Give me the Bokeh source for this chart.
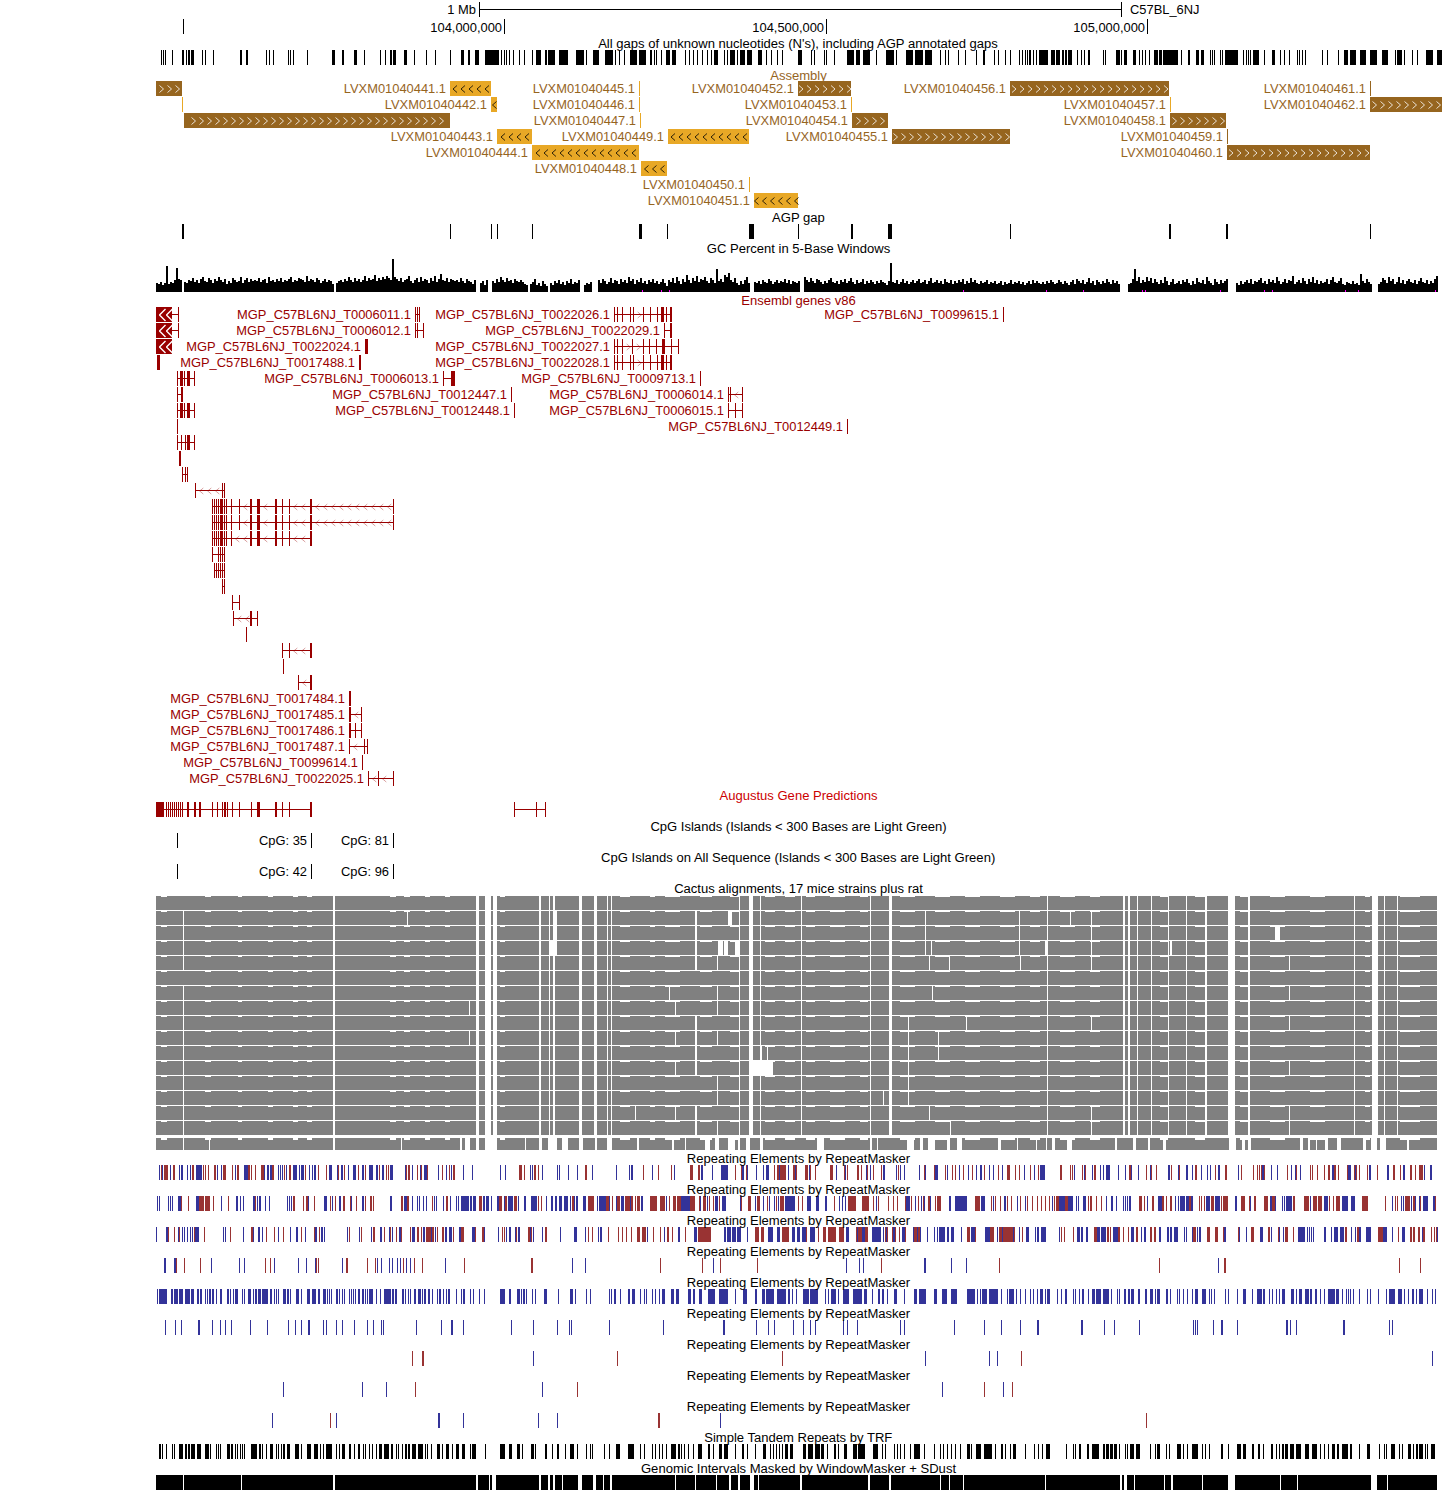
from bokeh.plotting import figure
from bokeh.models import Range1d, ColumnDataSource
from bokeh.core.properties import value
from bokeh.embed import file_html
from bokeh.resources import INLINE

# All positions below are window bins (1 bin is about 1.556 kb).
# An int is one bin wide; a tuple is (start, end).

GENOME_TICKS = [504, 826, 1147]
GENOME_TICK_LABELS = ["104,000,000", "104,500,000", "105,000,000"]
FIRST_TICK = 183
SCALE_BAR = (479, 1121)

ALL_GAPS = [161,163,165,172,(182,184),(186,187),(188,190),(191,194),202,205,213,(240,242),(246,248),266,269,273,288,290,293,307,
(332,335),(342,344),(354,357),364,380,385,(390,392),(393,396),(404,407),414,426,435,450,(461,464),(468,470),(475,479),(485,499),501,504,506,509,513,519,524,532,
(536,541),(545,547),(548,555),(559,568),(576,584),586,(593,599),(605,613),615,619,624,(630,637),(639,646),(650,652),654,656,661,(666,670),(672,676),685,689,693,697,702,707,711,(714,718),724,727,(730,735),737,(740,745),(747,752),
(758,762),766,771,777,782,(798,802),811,814,824,826,834,(847,854),(856,860),(863,870),876,(886,894),896,(906,913),(915,923),(925,932),940,945,948,958,965,976,(983,985),994,998,1005,1010,1019,1025,1029,(1036,1037),(1039,1047),
1022,1027,1030,1033,(1039,1042),(1044,1048),(1051,1055),(1056,1060),(1062,1064),(1065,1067),(1068,1072),1077,1081,1084,(1088,1090),1103,1105,(1116,1120),1121,(1124,1127),(1133,1136),1139,1142,1145,1149,(1154,1158),(1159,1162),(1163,1167),(1167,1178),1181,(1188,1190),(1196,1199),(1201,1204),1210,1212,1214,1220,1222,(1225,1238),1243,1246,1248,1250,(1253,1259),1264,(1272,1275),1280,1284,1289,1297,1299,1302,1305,1322,1327,1338,(1344,1348),(1350,1356),(1360,1366),(1370,1377),(1382,1388),1395,(1397,1402),1404,1412,1417,(1426,1433),(1437,1442)]

ASM_NAMES = ["", "LVXM01040441.1", "LVXM01040442.1", "LVXM01040445.1", "LVXM01040446.1", "LVXM01040447.1", "", "", "LVXM01040443.1", "LVXM01040444.1", "LVXM01040448.1", "LVXM01040449.1", "LVXM01040450.1", "LVXM01040451.1", "LVXM01040452.1", "LVXM01040453.1", "LVXM01040454.1", "LVXM01040455.1", "LVXM01040456.1", "LVXM01040457.1", "LVXM01040458.1", "LVXM01040459.1", "LVXM01040460.1", "LVXM01040461.1", "LVXM01040462.1"]
ASM_ROW =    [0,0,1,0,1,2,1,2,3,4,5,3,6,7,0,1,2,3,0,1,2,3,4,0,1]
ASM_START =  [156,450,491,639,639,640,182,184,497,532,641,668,749,754,798,851,852,892,1010,1170,1170,1227,1227,1370,1370]
ASM_END =    [182,491,497,640,640,641,183,450,532,639,667,749,750,798,851,852,888,1010,1169,1171,1226,1228,1370,1371,1442]
ASM_STRAND = ["+","-","-","-","-","-","-","+","-","-","-","-","-","-","+","-","+","+","+","-","+","+","+","+","+"]

AGP_GAPS = [(182,184),450,491,497,532,(639,642),667,(749,754),798,(851,853),(888,892),1010,(1169,1171),(1226,1228),1370]

GC_BIN = 2
GC_START = 156
GC_BASE = 3
GC_HEIGHT = [
6,5,7,4,6,23,5,7,6,9,21,10,9,0,7,6,9,8,11,7,9,6,10,12,8,7,11,9,6,10,8,12,9,7,10,5,8,6,11,9,7,8,12,6,9,11,7,10,8,9,
8,11,7,9,10,6,12,8,9,7,10,8,11,7,9,8,10,12,7,9,8,11,10,9,7,13,8,10,9,7,11,9,6,8,10,7,9,8,5,0,6,8,9,7,10,8,12,9,7,11,
8,10,7,9,13,8,11,9,10,14,8,11,9,12,10,13,11,9,30,12,10,8,11,7,9,10,13,8,6,9,11,7,12,8,10,9,6,11,8,13,7,10,15,9,8,11,7,10,9,8,
9,7,11,8,6,10,8,7,5,9,0,0,6,8,4,9,0,0,8,6,10,7,12,9,7,11,8,9,6,10,8,7,9,7,5,4,0,5,7,10,4,6,3,8,5,3,0,6,4,8,
6,9,5,7,4,8,6,10,5,7,6,9,0,0,4,6,5,7,0,0,0,9,6,10,8,5,7,11,6,9,8,5,10,7,9,6,12,8,10,5,9,7,11,6,8,5,9,7,10,6,
8,5,7,10,6,3,9,7,11,6,12,8,5,10,7,14,9,6,11,8,13,7,10,9,12,8,6,11,9,6,20,8,10,7,14,12,16,9,7,11,6,4,8,5,9,12,6,0,0,7,
6,8,5,9,7,6,10,8,5,7,9,6,8,7,10,6,9,5,8,7,6,8,0,0,12,9,7,11,8,6,10,9,7,5,8,6,9,11,7,6,8,5,9,7,10,6,8,11,7,5,
9,6,7,10,5,8,6,9,7,5,8,6,9,7,6,4,8,26,7,6,9,5,7,10,6,8,5,7,9,6,8,10,6,7,9,5,8,11,6,7,9,6,8,5,10,7,6,9,5,8,
6,9,7,10,5,8,6,11,7,9,6,5,8,6,7,9,5,7,6,8,5,6,8,4,7,5,6,9,5,7,6,8,5,7,4,6,8,5,9,6,8,6,5,7,5,8,6,9,7,5,
6,9,7,5,8,6,4,7,9,5,10,8,6,9,5,7,11,6,8,4,9,7,5,8,6,10,7,5,9,6,8,5,0,0,0,0,5,6,10,20,8,12,6,9,7,12,8,11,6,10,
7,5,9,6,12,8,4,7,10,5,6,8,5,9,7,10,6,4,8,5,11,7,6,9,5,12,8,6,4,10,7,5,9,6,8,10,0,0,0,0,6,4,8,5,7,9,6,10,5,8,
7,9,11,6,8,5,10,7,9,6,12,8,5,7,10,6,9,8,13,5,7,9,6,11,8,5,10,7,12,6,9,5,8,6,7,10,5,9,12,7,6,8,11,5,4,7,6,5,8,5,
6,4,15,8,6,10,7,5,0,0,0,5,7,11,9,6,12,8,10,5,7,12,6,9,5,8,10,7,6,9,5,8,11,7,6,9,5,8,6,10,13]
GC_ZERO = [642,661,669,963,1046,1083,1142,1145,1220,1264,1272,1345,1358,1435]

P = "MGP_C57BL6NJ_"
GENES = [
(0,"", "-",[(156,172),178]),(1,"", "-",[(156,172),178]),(2,"", "-",[(156,172)]),(3,"", "-",[(157,160)]),
(4,"", "-",[177,180,(181,183),184,(187,190),194]),(5,"", "-",[177,(181,183)]),(6,"", "-",[177,180,(181,183),184,(187,190),194]),
(7,"", "-",[177]),(8,"", "-",[177,181,185,(187,190),194]),(9,"", "-",[(179,181)]),(10,"", "-",[182,185,187]),
(11,"", "-",[(195,196),222,224]),
(12,"", "-",[212,214,216,218,(220,222),222,224,226,231,239,(250,252),(257,260),(275,277),282,289,(310,312),393]),
(13,"", "-",[212,214,216,218,(220,222),222,224,226,231,(239,240),(250,252),(257,260),(275,277),282,289,(310,312),393]),
(14,"", "-",[212,214,216,218,(220,222),222,224,226,231,(250,252),(257,260),(275,277),282,289,(310,312)]),
(15,"", "-",[212,218,220,222,224]),(16,"", "-",[214,216,218,220,222,224]),(17,"", "-",[222,224]),
(18,"", "-",[232,239]),(19,"", "-",[233,(250,252),257]),(20,"", "-",[246]),(21,"", "-",[282,289,(310,312)]),(22,"", "-",[283]),(23,"", "-",[298,(310,312)]),
(24,"T0017484.1","-",[(349,351)]),(25,"T0017485.1","-",[(349,351),361]),(26,"T0017486.1","-",[(349,351),355,361]),
(27,"T0017487.1","-",[349,364,367]),(28,"T0099614.1","-",[362]),(29,"T0022025.1","-",[368,378,393]),
(0,"T0006011.1","-",[415,417,419]),(1,"T0006012.1","-",[415,417,423]),(2,"T0022024.1","-",[(365,368)]),(3,"T0017488.1","-",[(359,361)]),
(4,"T0006013.1","-",[443,(451,455)]),(5,"T0012447.1","-",[511]),(6,"T0012448.1","-",[514]),
(0,"T0022026.1","+",[(614,615),617,622,630,633,643,650,657,(661,664),666,(670,672)]),(1,"T0022029.1","+",[664,(670,672)]),
(2,"T0022027.1","+",[(614,615),617,622,632,643,649,656,(662,665),671,678]),(3,"T0022028.1","+",[(614,615),617,622,630,633,643,650,657,(661,664),666,(670,672)]),
(4,"T0009713.1","-",[700]),(5,"T0006014.1","-",[728,(730,731),742]),(6,"T0006015.1","-",[728,735,742]),(7,"T0012449.1","-",[847]),(0,"T0099615.1","-",[1003]),
]
PACKED_CHEVRONS = [(0,162),(0,169),(1,162),(1,169),(2,162),(2,169)]

AUGUSTUS = [[(156,164),166,168,170,172,174,176,178,180,182,(187,189),(194,196),(199,201),212,217,222,(224,226),227,232,239,251,(257,260),(275,277),282,289,(310,312)],[514,536,545]]

CPG_TICKS = [177, 311, 393]
CPG_LABELS_A = ["", "CpG: 35", "CpG: 81"]
CPG_LABELS_B = ["", "CpG: 42", "CpG: 96"]

CACTUS = [(156,183),(184,333),(335,476),(479,485),(491,493),(497,539),(541,549),(550,553),(555,579),(582,594),(597,607),(608,611),(612,739),(740,749),(753,760),(761,801),(802,870),(871,889),(892,1047),(1048,1123),(1125,1128),(1130,1137),(1138,1151),(1152,1168),(1169,1186),(1187,1205),(1207,1228),(1235,1248),(1250,1354),(1355,1372),(1378,1384),(1385,1397),(1398,1437)]
CACTUS_NOTCH = [(161,167),(205,211),(238,242),(268,273),(293,298),(307,312),(390,396),(404,410),(425,430),(445,450),(500,505),(620,630),(650,655),(665,680),(700,712),(730,739),(765,775),(785,795),(806,815),(830,845),(860,868),(900,915),(935,950),(965,980),(1000,1015),(1030,1040),(1060,1075),(1090,1100),(1160,1168),(1195,1205),(1240,1248),(1270,1285),(1310,1325),(1365,1370),(1400,1420)]
CACTUS_FILL = {0:[(183,184)], 5:[(183,184)]}
CACTUS_WHITE = {
1:[(407,408),(553,557),(695,697),(728,732),925,1019,1070,1091],
2:[(553,557),(695,697),925,1019,1091,(1275,1280)],
3:[(549,557),(695,697),(718,723),(724,728),(735,739),925,931,1019,(1045,1048),1091,(1170,1172)],
4:[(695,697),717,929,949,1020,1091,1289],
5:[],
6:[669,717,932,1289],
7:[(469,470),675,717],
8:[(695,697),908,966,1091,1289],
9:[(469,470),675,(695,697),717,908,938,1168],
10:[(695,697),761,(767,768),908,938],
11:[675,(695,697),(750,773),908,1289],
12:[717,908],
13:[717,(883,884),908],
14:[635,675,(695,697),929,1091,1289],
15:[(695,697),717,950,1091,1289],
}
CACTUS_LAST = [(156,183),(184,209),(210,333),(335,401),(402,460),(462,465),(470,476),(479,485),(497,525),(526,539),(542,548),(557,562),(568,579),(583,595),(597,607),(612,637),(639,672),(674,685),(686,705),(710,715),(719,728),(735,738),(740,746),(750,760),(763,817),(824,870),(872,877),(878,907),(914,920),(923,928),(935,947),(950,957),(962,998),(1001,1017),(1018,1036),(1037,1046),(1047,1052),(1055,1067),(1072,1115),(1117,1133),(1136,1148),(1150,1163),(1166,1229),(1236,1242),(1245,1248),(1251,1300),(1303,1308),(1310,1316),(1317,1325),(1328,1337),(1341,1363),(1366,1371),(1377,1380),(1386,1407),(1409,1437)]

REP_BLUE = [
[159,162,170,179,(181,183),187,190,(196,202),217,221,(235,236),(244,248),264,(267,269),(270,272),278,280,282,286,(293,297),299,(301,304),309,312,(314,316),(329,332),337,(341,343),348,(353,356),(362,364),(369,373),(376,378),(382,384),(390,393),405,412,420,(424,427),438,(446,447),451,463,472,500,505,530,532,542,557,559,568,577,592,
616,629,(631,633),652,674,(701,703),712,(721,728),(742,744),747,756,763,(766,769),779,788,795,809,836,845,866,870,(883,885),896,900,904,919,925,(935,938),947,959,968,976,(980,982),989,993,1002,1024,1034,(1040,1045),
(1074,1075),1084,1092,1100,1103,(1106,1110),1118,1125,1131,1138,1150,(1168,1170),1178,(1186,1188),1192,1201,1207,1210,(1218,1220),1238,(1262,1264),1271,1277,1291,1295,1300,(1332,1334),(1348,1351),1355,(1369,1371),(1387,1389),(1403,1405),1424,(1430,1432)],
[157,159,168,170,172,(178,181),(196,199),221,(236,238),240,243,(253,255),257,(259,261),265,269,287,289,291,308,(324,327),332,(339,341),351,(362,364),(390,392),(404,407),412,417,419,423,426,434,436,443,450,456,458,(461,469),(470,472),(473,476),(483,485),(486,489),491,(497,499),504,(508,513),518,(524,526),(531,537),546,(551,553),(555,557),(559,562),(564,568),570,574,(576,578),(583,586),597,599,
(600,606),(609,610),616,(621,624),630,(641,643),666,(681,690),700,707,(715,718),(722,726),740,755,763,769,774,778,(785,795),(807,811),(816,819),(825,827),839,842,845,876,(906,910),915,921,924,930,(949,951),(955,967),(981,985),993,(1004,1006),1017,1025,
1052,(1059,1065),(1068,1073),1076,1078,(1083,1086),1106,(1111,1113),1116,1123,1125,1127,(1129,1131),1147,(1158,1162),1175,1178,(1180,1185),(1186,1189),(1191,1193),(1206,1210),(1215,1220),(1235,1237),1250,(1270,1272),(1275,1276),1282,1284,(1286,1292),1310,(1324,1328),(1342,1348),(1351,1355),1392,1401,1403,1411,1415,1419,(1423,1428),(1433,1435)],
[156,(166,168),178,182,184,187,190,192,(195,199),223,225,243,253,(258,260),262,278,290,(296,298),305,(315,317),(321,323),324,347,359,371,(380,382),389,392,(399,401),(412,415),(423,425),431,435,(445,447),(449,452),(459,461),(472,475),484,498,506,(509,511),515,(518,520),530,533,542,560,(574,577),585,598,
(600,602),647,664,(678,680),(694,697),(724,726),(727,731),(732,736),(737,741),747,(768,773),(777,780),(792,795),(797,800),(802,806),(810,815),(846,849),857,(862,865),(872,881),883,886,(893,895),(902,905),913,917,920,927,934,937,(939,945),(947,949),(951,954),961,(971,975),(985,990),997,1002,1013,1019,(1026,1029),1035,(1037,1039),(1041,1046),
1059,(1077,1080),(1081,1083),(1086,1088),(1097,1100),(1101,1106),(1113,1118),(1131,1134),1141,(1144,1146),(1159,1161),(1167,1169),(1170,1172),(1174,1178),1184,1186,1192,1197,(1199,1201),(1224,1226),1239,1246,(1260,1263),1271,1279,1283,(1298,1305),1307,1309,1311,1313,(1324,1326),1331,(1334,1338),(1340,1344),1351,1355,(1359,1361),(1366,1371),(1383,1387),1392,(1402,1405),1422,1437],
[(164,166),(174,176),211,239,244,274,298,306,315,342,381,377,389,392,397,400,406,410,445,572,585,713,846,859,863,(924,926),951,966,1218],
[157,(159,167),(171,173),(174,178),(179,183),(185,190),(191,194),(197,199),(200,202),205,207,(209,211),(212,214),216,(220,222),(227,229),230,233,(235,238),242,244,(248,251),253,(255,257),(258,261),(262,268),(270,272),274,276,278,(283,286),(287,289),290,(296,299),301,(307,310),(312,316),(318,320),(323,326),327,329,331,(336,338),339,342,344,349,351,353,355,(358,360),(362,364),365,367,(369,373),376,380,(384,391),(392,394),(395,397),(402,404),405,408,410,(414,416),(418,421),422,(424,426),(428,430),432,437,(439,441),443,446,(448,450),456,461,(463,465),470,473,479,484,(500,505),(509,511),(517,520),521,(523,525),526,532,535,(544,547),558,(570,573),575,586,590,
609,611,(614,616),620,(628,630),(632,635),640,644,646,652,655,659,(662,665),(671,674),(676,679),(688,691),(693,695),(699,702),(708,715),(719,728),735,(743,747),(755,757),(762,765),(766,774),(777,786),(788,790),792,796,(803,809),(810,818),825,828,(831,836),838,(843,849),(853,862),(864,867),872,(878,880),(882,884),887,(894,897),904,(914,917),(919,926),(934,937),(942,947),(951,957),(967,975),977,980,(982,987),(989,998),1001,1007,(1009,1014),1016,1020,1025,1030,1033,1037,(1040,1043),1045,(1047,1050),
1057,1061,(1065,1067),1073,1075,1079,(1082,1084),1088,(1092,1095),(1096,1101),(1103,1109),1111,1117,1119,(1124,1126),(1128,1130),(1131,1134),(1138,1140),(1145,1147),(1150,1153),1155,(1157,1160),(1166,1168),1170,1177,1179,1183,1187,1192,(1195,1198),(1202,1206),1209,1211,1214,1225,1228,1237,(1243,1246),1252,(1257,1262),(1263,1265),1269,1272,1276,1279,(1282,1285),(1291,1294),1296,(1299,1302),(1305,1309),(1310,1312),(1315,1317),1320,1324,(1328,1335),(1336,1339),1342,1346,1348,1350,1353,1359,1367,1370,1378,1386,(1389,1395),(1398,1402),1404,1408,(1412,1414),1416,(1419,1423),1427,1432,1435],
[165,175,181,(198,200),212,220,225,231,250,267,288,295,301,(308,310),323,326,336,342,354,367,373,381,383,416,441,(451,453),463,511,533,557,569,571,609,663,(723,725),756,768,774,793,803,810,815,843,847,857,900,904,954,984,1001,1020,(1037,1039),(1081,1083),1104,1114,1139,1193,1195,1197,1213,(1221,1223),1237,(1286,1288),1290,1296,(1343,1345),1389,1392],
[533,925,989,997,1432],
[283,362,386,542,942,1003],
[272,336,(438,440),463,538,557,720],
]
REP_RED = [
[161,(164,168),(173,175),(192,194),(198,202),203,205,208,(214,216),(223,226),232,(237,239),(248,250),251,255,(261,264),(272,274),284,(289,291),305,318,326,(337,339),344,358,365,379,386,388,(405,407),(408,410),417,421,(427,428),442,449,(453,455),(519,522),524,(534,536),538,(585,587),
643,658,671,(690,693),(698,700),723,735,741,746,774,(777,786),(793,797),(805,808),810,815,(830,833),844,847,(857,859),861,867,873,881,898,924,(934,936),945,952,955,963,972,984,998,(1007,1010),1015,1019,1030,1038,
(1060,1062),1070,1072,1082,1085,(1094,1096),1118,(1129,1132),1146,(1150,1152),1156,1171,1179,(1195,1197),1201,1215,(1225,1227),1241,1253,1257,1259,(1261,1265),1287,(1295,1297),1310,1312,1317,1324,(1328,1330),(1334,1336),1338,1347,(1354,1357),1359,1367,1377,(1393,1395),1400,(1410,1412),1415,(1419,1423),1430],
[181,188,(199,204),(205,210),213,228,255,(293,295),303,(306,308),314,330,335,(343,345),(350,352),356,365,(370,372),373,(401,403),(407,409),432,(446,448),(479,482),(499,502),(505,507),(514,517),538,541,(572,575),(588,594),599,
(606,609),612,(617,620),(625,633),635,(637,640),(650,657),(660,665),669,(673,676),(677,681),(690,695),699,(703,706),709,713,719,(740,742),(748,751),(757,760),767,776,(780,784),798,802,817,834,(848,856),(862,869),873,878,888,893,897,(905,907),911,918,923,(928,930),935,(937,941),(975,980),991,995,1000,1007,1011,1020,1027,1032,1037,1041,1045,
1049,1054,(1056,1059),(1065,1073),1088,(1090,1092),1096,1101,(1139,1142),1144,(1152,1154),(1162,1164),1166,(1170,1172),(1189,1193),1199,1201,1204,(1211,1214),1221,(1223,1228),(1241,1245),(1249,1251),(1254,1256),(1264,1268),(1272,1276),(1293,1295),(1304,1309),(1313,1317),(1318,1322),1329,1333,(1336,1340),(1362,1368),1385,1395,1397,(1405,1410),(1413,1415),1420,(1434,1436)],
[168,174,179,194,204,230,(251,253),266,274,283,301,(314,316),319,349,361,(373,375),384,(389,391),396,(400,402),410,(417,419),421,(426,434),437,(442,444),453,(461,464),475,(482,484),502,504,516,519,(528,530),531,(545,547),588,592,598,
608,618,622,626,631,(637,640),(642,646),653,660,664,(667,669),672,685,(695,697),(698,711),(755,759),(761,764),(782,789),797,(802,807),(811,815),818,(823,826),(828,836),(839,844),(856,863),(865,868),(885,888),(892,896),899,(904,906),(914,921),(967,970),(973,976),(988,994),(999,1015),1022,
1061,1064,1073,(1094,1097),(1107,1109),1110,(1118,1120),1123,1128,(1136,1138),(1150,1152),(1154,1156),1167,1186,(1192,1196),(1207,1210),(1215,1218),1223,(1238,1240),(1251,1254),(1268,1270),1278,(1285,1288),1293,1301,1341,(1345,1347),(1357,1361),(1378,1383),(1384,1387),1398,(1410,1412),(1413,1415),(1418,1420),(1423,1425),1431,1434,(1436,1438)],
[(175,177),184,200,265,270,(316,317),318,(346,348),367,375,403,414,422,464,(531,533),660,702,720,757,881,999,1159,(1224,1226),1399,1420],
[],
[],
[412,(422,424),617,782,1021],
[415,577,984,1012],
[330,(658,660),1146],
]
REP_TOPS = [1165, 1196, 1227, 1258, 1289, 1320, 1351, 1382, 1413]

TRF = [(159,161),162,166,172,174,(179,183),(185,187),(188,190),(191,195),(197,201),(205,209),210,216,218,220,(227,230),(231,233),235,237,240,242,244,(251,257),(259,261),262,266,(270,273),276,278,281,(283,285),(287,290),(295,299),301,(307,311),(314,318),320,323,(326,332),336,339,(342,345),(349,351),354,(358,360),363,365,369,372,376,(379,382),(384,389),(391,393),396,398,402,(405,407),(408,410),(412,416),(418,423),425,427,431,(437,440),442,(446,449),452,(456,459),(462,465),470,(472,476),485,(500,505),(509,512),(517,520),522,(531,534),535,(545,547),552,(557,559),565,(570,574),577,586,590,592,
604,609,(616,620),(628,634),640,644,652,655,659,662,666,(671,676),(678,680),681,684,688,693,(698,702),(708,710),713,(719,722),(724,728),735,(742,744),747,755,763,(764,766),770,773,776,779,782,(785,788),(790,793),(803,806),(808,813),(815,820),(821,824),827,(834,836),838,(844,847),(853,857),(858,865),(873,878),882,885,894,897,900,904,910,(914,920),924,934,940,943,947,951,955,960,(967,970),971,976,(977,981),(984,992),995,(1001,1003),1005,1010,(1013,1016),1025,1034,1038,1042,(1046,1050),
1066,1073,1075,(1079,1081),(1087,1089),(1092,1099),(1103,1105),(1106,1109),(1110,1113),(1114,1117),1119,1125,1127,(1130,1134),(1136,1140),1150,1155,(1157,1160),1166,1169,(1177,1181),1183,1187,(1192,1198),1202,1205,1209,(1221,1223),1228,(1237,1241),(1243,1246),(1252,1254),(1258,1260),1263,(1271,1273),1276,1279,(1282,1284),(1285,1288),(1290,1294),(1296,1301),(1305,1309),(1312,1317),1320,1324,1328,(1332,1335),(1337,1339),(1342,1348),(1350,1352),1359,(1367,1370),1379,1384,1386,(1391,1395),1399,1402,(1408,1411),1413,(1416,1418),(1419,1423),1425,(1427,1428),(1431,1435)]

WINDOW_MASKER = [(156,183),(184,241),(242,333),(335,476),(478,489),(490,492),(496,539),(541,548),(550,553),(555,562),(563,578),(582,593),(596,603),(604,610),(612,675),(676,695),(696,716),(717,729),(731,738),(740,750),(754,758),(759,800),(802,868),(870,889),(891,940),(941,949),(950,963),(964,1045),(1046,1120),(1122,1124),(1127,1134),(1135,1164),(1165,1171),(1173,1202),(1203,1228),(1235,1280),(1281,1297),(1298,1371),(1377,1387),(1388,1437)]

TITLES = [
("All gaps of unknown nucleotides (N's), including AGP annotated gaps",43,"#000000"),
("Assembly",75,"#96651f"),("AGP gap",217,"#000000"),("GC Percent in 5-Base Windows",248,"#000000"),
("Ensembl genes v86",300,"#990000"),("Augustus Gene Predictions",795,"#cc0000"),
("CpG Islands (Islands < 300 Bases are Light Green)",826,"#000000"),("CpG Islands on All Sequence (Islands < 300 Bases are Light Green)",857,"#000000"),
("Cactus alignments, 17 mice strains plus rat",888,"#000000"),
("Repeating Elements by RepeatMasker",1158,"#000000"),("Repeating Elements by RepeatMasker",1189,"#000000"),("Repeating Elements by RepeatMasker",1220,"#000000"),
("Repeating Elements by RepeatMasker",1251,"#000000"),("Repeating Elements by RepeatMasker",1282,"#000000"),("Repeating Elements by RepeatMasker",1313,"#000000"),
("Repeating Elements by RepeatMasker",1344,"#000000"),("Repeating Elements by RepeatMasker",1375,"#000000"),("Repeating Elements by RepeatMasker",1406,"#000000"),
("Simple Tandem Repeats by TRF",1437,"#000000"),("Genomic Intervals Masked by WindowMasker + SDust",1468,"#000000"),
]

FONT = value("Liberation Sans")
FS_LABEL = "12.9px"
FS_TITLE = "13.05px"
BLACK, GREY, DARKRED = "#000000", "#808080", "#990000"
BROWN, AMBER, LABEL = "#96651f", "#e8a826", "#96651f"
BLUE, RED = "#333399", "#993333"
TITLE_X = 798.5

# half-bin range offset keeps one-bin marks on whole device pixels
p = figure(width=1443, height=1491, x_range=Range1d(0.5, 1443.5), y_range=Range1d(1491.5, 0.5),
           output_backend="svg", toolbar_location=None, min_border=0,
           x_axis_type=None, y_axis_type=None)
p.outline_line_color = None
p.grid.visible = False
p.background_fill_color = "#ffffff"
p.border_fill_color = "#ffffff"


def span(v):
    return v if isinstance(v, tuple) else (v, v + 1)


boxes = dict(left=[], right=[], top=[], bottom=[], color=[])


def box(v, y0, y1, color):
    a, b = span(v)
    boxes["left"].append(a)
    boxes["right"].append(b)
    boxes["top"].append(y0)
    boxes["bottom"].append(y1)
    boxes["color"].append(color)


def track(items, y0, y1, color):
    for v in items:
        box(v, y0, y1, color)


labels = dict(x=[], y=[], text=[], color=[])


def right_label(x, y, text, color):
    labels["x"].append(x)
    labels["y"].append(y)
    labels["text"].append(text)
    labels["color"].append(color)


chev = {}


def chevron(cx, cy, d, hw, hh, color, width, alpha=1.0):
    key = (color, width, alpha)
    c = chev.setdefault(key, ([], []))
    c[0].append([cx - d * hw, cx + d * hw, cx - d * hw])
    c[1].append([cy - hh, cy, cy + hh])


# ruler
box((SCALE_BAR[0], SCALE_BAR[1] + 1), 9, 10, BLACK)
box(SCALE_BAR[0], 2, 17, BLACK)
box(SCALE_BAR[1], 2, 17, BLACK)
box(FIRST_TICK, 19, 34, BLACK)
for x, t in zip(GENOME_TICKS, GENOME_TICK_LABELS):
    box(x, 19, 34, BLACK)
    right_label(x - 2, 28, t, BLACK)
right_label(SCALE_BAR[0] - 3, 10, "1 Mb", BLACK)

track(ALL_GAPS, 50, 65, BLACK)

# assembly
for name, row, a, b, s in zip(ASM_NAMES, ASM_ROW, ASM_START, ASM_END, ASM_STRAND):
    top = 81 + 16 * row
    col = BROWN if s == "+" else AMBER
    box((a, b), top, top + 15, col)
    w = b - a
    if name:
        right_label(a - 4, top + 7.5, name, LABEL)
    if w > 3:
        n = max(1, round(w / 8))
        if w == 266:
            n = 32
        for k in range(n):
            cx = a + w / 2 + (k - (n - 1) / 2) * 8
            d = 1 if s == "+" else -1
            chevron(cx + 0.5, top + 8, d, 2, 3.5, "#ffffff" if s == "+" else "#000000", 0.8)
track(AGP_GAPS, 224, 239, BLACK)

# GC
for i, h in enumerate(GC_HEIGHT):
    if h:
        box((GC_START + i * GC_BIN, GC_START + (i + 1) * GC_BIN), 292 - h - GC_BASE, 292, BLACK)
track(GC_ZERO, 290, 292, "#ff00ff")

# genes
for row, name, s, exons in GENES:
    top = 307 + 16 * row
    spans = [span(e) for e in exons]
    lo, hi = spans[0][0], spans[-1][1]
    if hi - lo > len(exons):
        box((lo, hi), top + 7, top + 8, DARKRED)
    for a, b in zip(spans[:-1], spans[1:]):
        x = a[1] + 5
        while x < b[0] - 2:
            chevron(x + 0.5, top + 8, 1 if s == "+" else -1, 1.8, 3, DARKRED, 0.7, 0.55)
            x += 8
    for e in spans:
        box(e, top, top + 15, DARKRED)
    if name:
        right_label(lo - 4, top + 7.5, P + name, DARKRED)
for row, x in PACKED_CHEVRONS:
    chevron(x + 0.5, 307 + 16 * row + 8, -1, 3, 6, "#ffffff", 1.4)

# augustus
for exons in AUGUSTUS:
    spans = [span(e) for e in exons]
    box((spans[0][0], spans[-1][1]), 809, 810, DARKRED)
    track(spans, 802, 817, DARKRED)

# CpG
for x, a, b in zip(CPG_TICKS, CPG_LABELS_A, CPG_LABELS_B):
    box(x, 833, 848, BLACK)
    box(x, 864, 879, BLACK)
    if a:
        right_label(x - 4, 840.5, a, BLACK)
        right_label(x - 4, 871.5, b, BLACK)

# cactus
for r in range(16):
    top = 896 + 15 * r
    track(CACTUS, top, top + 14, GREY)
    track(CACTUS_FILL.get(r, []), top, top + 14, GREY)
    track(CACTUS_WHITE.get(r, []), top, top + 14, "#ffffff")
    track(CACTUS_NOTCH, top, top + 1, "#ffffff")
track(CACTUS_LAST, 1138, 1150, GREY)
track(CACTUS_NOTCH, 1138, 1140, "#ffffff")

# repeats
for top, red, blue in zip(REP_TOPS, REP_RED, REP_BLUE):
    track(red, top, top + 15, RED)
    track(blue, top, top + 15, BLUE)

track(TRF, 1444, 1459, BLACK)
track(WINDOW_MASKER, 1475, 1490, BLACK)

p.quad(left="left", right="right", top="top", bottom="bottom", color="color",
       line_color=None, source=ColumnDataSource(boxes))

for (color, width, alpha), (xs, ys) in chev.items():
    p.multi_line(xs, ys, line_color=color, line_width=width, line_alpha=alpha)

p.text(x="x", y="y", text="text", text_color="color", text_align="right", text_baseline="middle",
       text_font=FONT, text_font_size=FS_LABEL, y_offset=-0.5, source=ColumnDataSource(labels))
p.text(x=[1130], y=[10], text=["C57BL_6NJ"], text_color=BLACK, text_align="left", text_baseline="middle",
       text_font=FONT, text_font_size=FS_LABEL, y_offset=-0.5)
p.text(x=[TITLE_X] * len(TITLES), y=[t[1] for t in TITLES], text=[t[0] for t in TITLES],
       text_color=[t[2] for t in TITLES], text_align="center", text_baseline="middle",
       text_font=FONT, text_font_size=FS_TITLE, y_offset=0.5)

open("out.html", "w").write(file_html(p, INLINE))
